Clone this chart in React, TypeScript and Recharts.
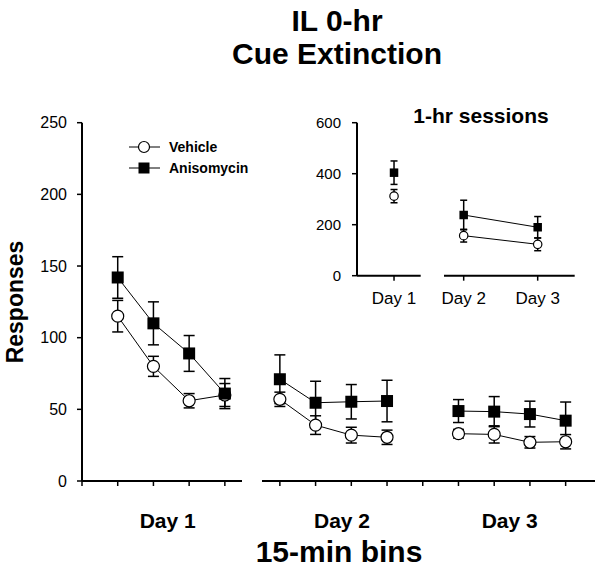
import { LineChart, Line, XAxis, YAxis, ErrorBar, Legend } from "recharts";

// IL 0-hr cue extinction: responses per 15-min bin, with 1-hr session inset

const FONT = '"Liberation Sans", Arial, sans-serif';

// 15-min bins (4 per day), mean and SEM
const day1Vehicle = [115, 80, 56, 60];
const day1VehicleSem = [11, 7, 5, 8];
const day1Aniso = [142, 110, 89, 61];
const day1AnisoSem = [14.5, 15, 12.5, 10.5];

const day2Vehicle = [57, 39, 32, 30.5];
const day2VehicleSem = [5, 6.5, 5.5, 5];
const day2Aniso = [71, 54.6, 55.3, 55.8];
const day2AnisoSem = [17, 15, 12, 14.5];

const day3Vehicle = [33, 32.5, 27, 27.4];
const day3VehicleSem = [3, 6, 4, 5];
const day3Aniso = [48.8, 48.4, 46.7, 42.1];
const day3AnisoSem = [8, 10.5, 9, 13];

const responseTicks = [0, 50, 100, 150, 200, 250];

// 1-hr sessions (inset)
const sessionDays = ["Day 1", "Day 2", "Day 3"];
const sessionVehicle = [312, 157, 123];
const sessionVehicleSem = [26, 25, 25];
const sessionAniso = [404, 238, 190];
const sessionAnisoSem = [46, 58, 42];
const sessionTicks = [0, 200, 400, 600];

const legendOrder = ["vehicle", "aniso"];

const dayRows = (veh: number[], vehSem: number[], ani: number[], aniSem: number[], start: number) =>
  veh.map((v, i) => ({
    bin: start + i,
    vehicle: v,
    vehicleSem: vehSem[i],
    aniso: ani[i],
    anisoSem: aniSem[i],
  }));

const day1Rows = dayRows(day1Vehicle, day1VehicleSem, day1Aniso, day1AnisoSem, 1);
const laterRows = [
  ...dayRows(day2Vehicle, day2VehicleSem, day2Aniso, day2AnisoSem, 1),
  { bin: 5, vehicle: null, vehicleSem: null, aniso: null, anisoSem: null },
  ...dayRows(day3Vehicle, day3VehicleSem, day3Aniso, day3AnisoSem, 6),
];

const sessionRows = sessionVehicle.map((v, i) => ({
  day: i + 1,
  vehicle: v,
  vehicleSem: sessionVehicleSem[i],
  aniso: sessionAniso[i],
  anisoSem: sessionAnisoSem[i],
}));

const squareDot = (size: number) => (props: any) => {
  const { cx, cy, index } = props;
  if (cx == null || cy == null) return <g key={`sq-${index}`} />;
  return <rect key={`sq-${index}`} x={cx - size / 2} y={cy - size / 2} width={size} height={size} fill="#000" />;
};

const axisLine = { stroke: "#000", strokeWidth: 2 };
const tickLine = { stroke: "#000", strokeWidth: 1.5 };

function LegendBox({ payload }: any) {
  const items = [...(payload || [])].sort(
    (a: any, b: any) => legendOrder.indexOf(a.dataKey) - legendOrder.indexOf(b.dataKey)
  );
  return (
    <div style={{ fontFamily: FONT }}>
      {items.map((entry: any) => (
        <div key={entry.value} style={{ display: "flex", alignItems: "center", height: 20.4 }}>
          <svg width={31} height={14}>
            <line x1={0} y1={7} x2={31} y2={7} stroke="#000" strokeWidth={1} />
            {entry.dataKey === "vehicle" ? (
              <circle cx={15} cy={7} r={5.5} fill="#fff" stroke="#000" strokeWidth={1.2} />
            ) : (
              <rect x={9.5} y={1.5} width={11} height={11} fill="#000" />
            )}
          </svg>
          <span style={{ marginLeft: 9, fontSize: 14, fontWeight: "bold", color: "#000" }}>{entry.value}</span>
        </div>
      ))}
    </div>
  );
}

export default function App() {
  const mainTick = { fill: "#000", fontSize: 16, fontFamily: FONT };
  const insetTick = { fill: "#000", fontSize: 15, fontFamily: FONT };
  const insetXTick = { fill: "#000", fontSize: 17, fontFamily: FONT };

  const vehicleLine = (r: number, cap: number) => (
    <Line
      type="linear"
      dataKey="vehicle"
      name="Vehicle"
      stroke="#000"
      strokeWidth={1}
      dot={{ r, fill: "#fff", stroke: "#000", strokeWidth: 1.2 }}
      activeDot={false}
      isAnimationActive={false}
    >
      <ErrorBar dataKey="vehicleSem" width={cap} stroke="#000" strokeWidth={1.5} direction="y" />
    </Line>
  );
  const anisoLine = (size: number, cap: number) => (
    <Line
      type="linear"
      dataKey="aniso"
      name="Anisomycin"
      stroke="#000"
      strokeWidth={1}
      dot={squareDot(size)}
      activeDot={false}
      isAnimationActive={false}
    >
      <ErrorBar dataKey="anisoSem" width={cap} stroke="#000" strokeWidth={1.5} direction="y" />
    </Line>
  );

  return (
    <div style={{ position: "absolute", left: 0, top: 0, width: 602, height: 569, background: "#fff", fontFamily: FONT }}>
      {/* main panel, Day 1 with the y axis */}
      <div style={{ position: "absolute", left: 0, top: 0 }}>
        <LineChart width={242} height={569} data={day1Rows} margin={{ top: 122.7, right: 0, bottom: 0, left: 0 }}>
          <XAxis
            type="number"
            dataKey="bin"
            domain={[0, 4.48]}
            ticks={[0, 1, 2, 3, 4]}
            interval={0}
            tickFormatter={() => ""}
            height={88}
            axisLine={axisLine}
            tickLine={tickLine}
            tickSize={5}
          />
          <YAxis
            domain={[0, 250]}
            ticks={responseTicks}
            interval={0}
            width={82}
            axisLine={axisLine}
            tickLine={tickLine}
            tickSize={5}
            tickMargin={10}
            tick={mainTick}
          />
          <Legend
            layout="vertical"
            align="center"
            verticalAlign="middle"
            wrapperStyle={{ left: 129, top: 137, width: 160, height: 42 }}
            content={<LegendBox />}
          />
          {vehicleLine(6, 5.5)}
          {anisoLine(12, 5.5)}
        </LineChart>
      </div>

      {/* main panel, Days 2 and 3 after the axis break */}
      <div style={{ position: "absolute", left: 261.7, top: 0 }}>
        <LineChart width={333.3} height={569} data={laterRows} margin={{ top: 122.7, right: 0, bottom: 0, left: 0 }}>
          <XAxis
            type="number"
            dataKey="bin"
            domain={[0.5, 9.83]}
            ticks={[1, 2, 3, 4, 5, 6, 7, 8, 9]}
            interval={0}
            tickFormatter={() => ""}
            height={88}
            axisLine={axisLine}
            tickLine={tickLine}
            tickSize={5}
          />
          <YAxis hide domain={[0, 250]} />
          {vehicleLine(6, 5.5)}
          {anisoLine(12, 5.5)}
        </LineChart>
      </div>

      {/* inset, Day 1 session */}
      <div style={{ position: "absolute", left: 300, top: 100 }}>
        <LineChart width={120.7} height={210} data={sessionRows.slice(0, 1)} margin={{ top: 22.7, right: 0, bottom: 0, left: 0 }}>
          <XAxis
            type="number"
            dataKey="day"
            domain={[0.5, 1.36]}
            ticks={[1]}
            interval={0}
            tickFormatter={(v: number) => sessionDays[v - 1]}
            height={34.3}
            axisLine={axisLine}
            tickLine={tickLine}
            tickSize={5}
            tickMargin={11}
            tick={insetXTick}
          />
          <YAxis
            domain={[0, 600]}
            ticks={sessionTicks}
            interval={0}
            width={57}
            axisLine={axisLine}
            tickLine={tickLine}
            tickSize={5}
            tickMargin={11}
            tick={insetTick}
          />
          {vehicleLine(4.2, 3.5)}
          {anisoLine(8.5, 3.5)}
        </LineChart>
      </div>

      {/* inset, Day 2 and Day 3 sessions (left margin keeps the Day 2 label inside the svg) */}
      <div style={{ position: "absolute", left: 429.3, top: 100 }}>
        <LineChart width={160.7} height={210} data={sessionRows.slice(1)} margin={{ top: 22.7, right: 15, bottom: 0, left: 15 }}>
          <XAxis
            type="number"
            dataKey="day"
            domain={[1.734, 3.5]}
            ticks={[2, 3]}
            interval={0}
            tickFormatter={(v: number) => sessionDays[v - 1]}
            height={34.3}
            axisLine={axisLine}
            tickLine={tickLine}
            tickSize={5}
            tickMargin={11}
            tick={insetXTick}
          />
          <YAxis hide domain={[0, 600]} />
          {vehicleLine(4.2, 3.5)}
          {anisoLine(8.5, 3.5)}
        </LineChart>
      </div>

      {/* titles */}
      <svg width={602} height={569} style={{ position: "absolute", left: 0, top: 0, pointerEvents: "none" }}>
        <g fontFamily={FONT} fontWeight="bold" fill="#000" textAnchor="middle">
          <text x={337} y={31} fontSize={30}>IL 0-hr</text>
          <text x={337} y={64} fontSize={30}>Cue Extinction</text>
          <text x={481} y={123.3} fontSize={21}>1-hr sessions</text>
          <text transform="translate(23,302) rotate(-90)" fontSize={23}>Responses</text>
          <text x={167.7} y={528.3} fontSize={21}>Day 1</text>
          <text x={342} y={528.3} fontSize={21}>Day 2</text>
          <text x={509.7} y={528.3} fontSize={21}>Day 3</text>
          <text x={339} y={561.7} fontSize={30}>15-min bins</text>
        </g>
      </svg>
    </div>
  );
}
